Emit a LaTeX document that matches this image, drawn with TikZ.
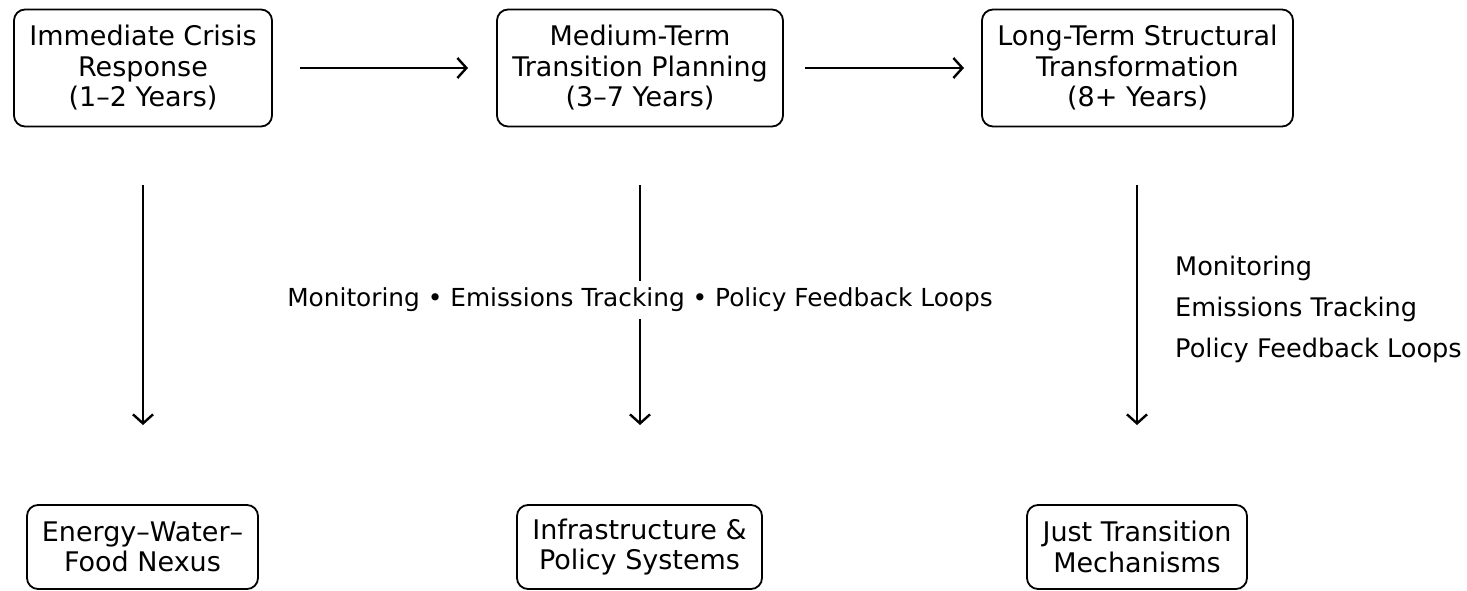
\documentclass[tikz,border=0pt]{standalone}
\usepackage{fontspec}
\setmainfont{DejaVu Sans}
\usetikzlibrary{arrows.meta}
\begin{document}
\begin{tikzpicture}[x=1pt,y=-1pt,
  phasebox/.style={draw, line width=1.8pt, rounded corners=11pt, align=center,
    minimum height=117pt, inner sep=0pt,
    font=\fontsize{27}{30.5}\selectfont},
  sysbox/.style={draw, line width=1.8pt, rounded corners=11pt, align=center,
    minimum height=84pt, inner sep=0pt,
    font=\fontsize{27}{30.5}\selectfont},
  flow/.style={line width=2.4pt, -{Straight Barb[length=9pt,width=20pt,line width=2.4pt]}},
  notetext/.style={font=\fontsize{25.6}{41}\selectfont}
]
\useasboundingbox (0,0) rectangle (1467,591);

% timeline phases
\node[phasebox, minimum width=258pt] (p1) at (143,68) {Immediate Crisis\\Response\\(1–2 Years)};
\node[phasebox, minimum width=286pt] (p2) at (640,68) {Medium-Term\\Transition Planning\\(3–7 Years)};
\node[phasebox, minimum width=311pt] (p3) at (1137.5,68) {Long-Term Structural\\Transformation\\(8+ Years)};

% system domains
\node[sysbox, minimum width=231pt] (d1) at (142.5,547) {Energy–Water–\\Food Nexus};
\node[sysbox, minimum width=245pt] (d2) at (639.5,547) {Infrastructure \&\\Policy Systems};
\node[sysbox, minimum width=220pt] (d3) at (1137,547) {Just Transition\\Mechanisms};

% horizontal progression
\coordinate (h1a) at (300,68);
\coordinate (h1b) at (468,68);
\coordinate (h2a) at (805,68);
\coordinate (h2b) at (964,68);
\draw[flow] (h1a) -- (h1b);
\draw[flow] (h2a) -- (h2b);

% vertical links
\coordinate (v1a) at (143,185);
\coordinate (v1b) at (143,425);
\coordinate (v2a) at (640,185);
\coordinate (v2b) at (640,425);
\coordinate (v3a) at (1137,185);
\coordinate (v3b) at (1137,425);
\draw[flow] (v1a) -- (v1b);
\draw[flow] (v2a) -- (v2b);
\draw[flow] (v3a) -- (v3b);

% feedback notes
\node[notetext, fill=white, inner sep=2pt, minimum height=38pt,
  font=\fontsize{24.8}{41}\selectfont] (fb) at (640,300)
  {Monitoring • Emissions Tracking • Policy Feedback Loops};
\node[notetext, anchor=west, align=left, inner sep=0pt] (fbr) at (1175,309)
  {Monitoring\\Emissions Tracking\\Policy Feedback Loops};
\end{tikzpicture}
\end{document}
